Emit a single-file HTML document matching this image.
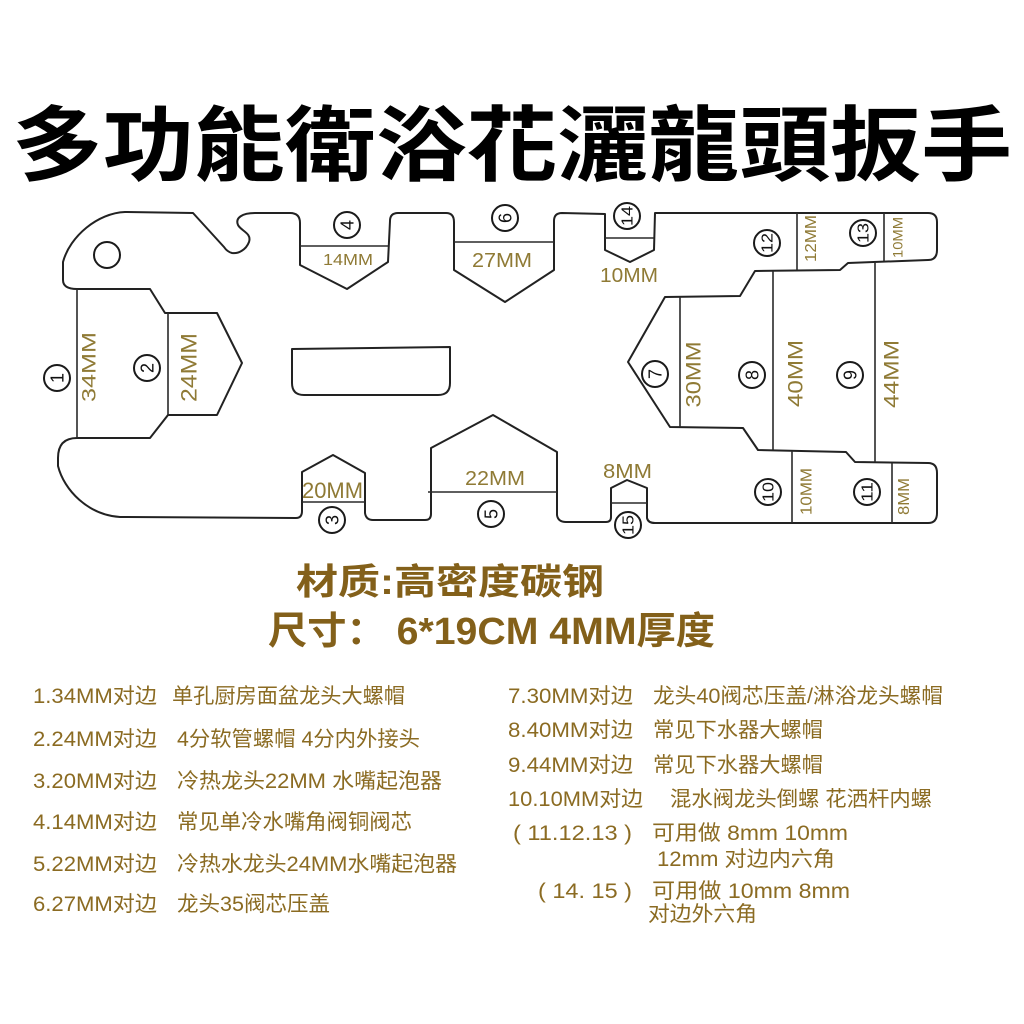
<!DOCTYPE html>
<html><head><meta charset="utf-8"><style>
html,body{margin:0;padding:0;background:#fff;}
svg{display:block;}
.o{fill:none;stroke:#222;stroke-width:2;stroke-linejoin:round;}
.l{stroke:#2a2a2a;stroke-width:1.6;}
.c{fill:none;stroke:#1a1a1a;stroke-width:2;}
.n{font-family:"Liberation Sans",sans-serif;fill:#111;text-anchor:middle;}
.g{font-family:"Liberation Sans",sans-serif;fill:#8f7a35;}
.t{font-family:"Liberation Sans","Noto Sans CJK SC",sans-serif;fill:#8b6b22;font-size:21px;}
</style></head><body>
<svg width="1024" height="1024" viewBox="0 0 1024 1024" xmlns="http://www.w3.org/2000/svg">
<rect width="1024" height="1024" fill="#fff"/>
<text x="12" y="174" font-family="'Liberation Sans','Noto Sans CJK TC',sans-serif" font-weight="bold" font-size="82" fill="#000" textLength="1000" lengthAdjust="spacingAndGlyphs">多功能衛浴花灑龍頭扳手</text>

<path class="o" d="M 77,289 L 150,289 L 165,313 L 217,313 L 242,363 L 217,415 L 168,415 L 150,438 L 77,438
C 64,438 58,445 58,458 L 58,466 C 64,490 88,515 120,517
L 296,518 Q 302,518 302,511 L 302,472 L 333,455 L 365,473 L 365,513 Q 366,520 373,520
L 425,520 Q 431,520 431,514 L 431,448 L 493,415 L 557,452 L 557,515 Q 558,522 566,522
L 606,522 Q 611,522 611,517 L 611,488 L 627,480 L 647,488 L 647,518 Q 648,523 655,523
L 928,523 Q 937,523 937,513 L 937,473 Q 937,463 928,463
L 855,462 L 846,452 L 758,450 L 743,428 L 670,427 L 628,362 L 665,297 L 740,296 L 755,271 L 840,270 L 848,263 L 928,260 Q 937,260 937,250
L 937,222 Q 937,213 928,213 L 655,213 L 654,250 L 630,262 L 605,250 L 605,214
L 562,213 Q 554,213 554,221 L 554,270 L 505,302 L 454,270 L 454,222 Q 454,213 446,213
L 398,213 Q 390,213 390,221 L 388,262 L 347,289 L 300,265 L 300,223 Q 300,213 290,213
L 255,213 C 242,213 235,218 238,225 C 241,231 252,233 249,242 C 246,250 238,254 232,253 C 228,252 226,250 224,247
L 193,213 L 125,212 C 98,213 70,236 63,262 L 63,280 Q 63,289 77,289 Z"/>
<circle class="c" cx="107" cy="255" r="13"/>
<path class="o" d="M 292,349 L 450,347 L 450,383 Q 450,395 438,395 L 304,395 Q 292,395 292,383 Z"/>

<g class="l">
<line x1="77" y1="289" x2="77" y2="438"/>
<line x1="168" y1="313" x2="168" y2="415"/>
<line x1="300" y1="246" x2="388" y2="246"/>
<line x1="454" y1="242" x2="554" y2="242"/>
<line x1="605" y1="238" x2="654" y2="238"/>
<line x1="302" y1="502" x2="365" y2="502"/>
<line x1="428" y1="492" x2="557" y2="492"/>
<line x1="611" y1="503" x2="647" y2="503"/>
<line x1="797" y1="213" x2="797" y2="270"/>
<line x1="884" y1="213" x2="884" y2="261"/>
<line x1="680" y1="297" x2="680" y2="427"/>
<line x1="773" y1="271" x2="773" y2="450"/>
<line x1="875" y1="262" x2="875" y2="462"/>
<line x1="792" y1="451" x2="792" y2="523"/>
<line x1="892" y1="463" x2="892" y2="523"/>
</g>

<g>
<circle class="c" cx="57" cy="378" r="13"/><text class="n" font-size="18" x="57" y="384.5" transform="rotate(-90 57 378)">1</text>
<circle class="c" cx="147" cy="368" r="13"/><text class="n" font-size="18" x="147" y="374.5" transform="rotate(-90 147 368)">2</text>
<circle class="c" cx="332" cy="520" r="13"/><text class="n" font-size="18" x="332" y="526.5" transform="rotate(-90 332 520)">3</text>
<circle class="c" cx="347" cy="225" r="13"/><text class="n" font-size="18" x="347" y="231.5" transform="rotate(-90 347 225)">4</text>
<circle class="c" cx="491" cy="514" r="13"/><text class="n" font-size="18" x="491" y="520.5" transform="rotate(-90 491 514)">5</text>
<circle class="c" cx="505" cy="218" r="13"/><text class="n" font-size="18" x="505" y="224.5" transform="rotate(-90 505 218)">6</text>
<circle class="c" cx="655" cy="374" r="13"/><text class="n" font-size="18" x="655" y="380.5" transform="rotate(-90 655 374)">7</text>
<circle class="c" cx="752" cy="375" r="13"/><text class="n" font-size="18" x="752" y="381.5" transform="rotate(-90 752 375)">8</text>
<circle class="c" cx="850" cy="375" r="13"/><text class="n" font-size="18" x="850" y="381.5" transform="rotate(-90 850 375)">9</text>
<circle class="c" cx="768" cy="492" r="13"/><text class="n" font-size="16" x="768" y="497.5" textLength="20" lengthAdjust="spacingAndGlyphs" transform="rotate(-90 768 492)">10</text>
<circle class="c" cx="867" cy="492" r="13"/><text class="n" font-size="16" x="867" y="497.5" textLength="20" lengthAdjust="spacingAndGlyphs" transform="rotate(-90 867 492)">11</text>
<circle class="c" cx="767" cy="243" r="13"/><text class="n" font-size="16" x="767" y="248.5" textLength="20" lengthAdjust="spacingAndGlyphs" transform="rotate(-90 767 243)">12</text>
<circle class="c" cx="863" cy="233" r="13"/><text class="n" font-size="16" x="863" y="238.5" textLength="20" lengthAdjust="spacingAndGlyphs" transform="rotate(-90 863 233)">13</text>
<circle class="c" cx="627" cy="216" r="13"/><text class="n" font-size="16" x="627" y="221.5" textLength="20" lengthAdjust="spacingAndGlyphs" transform="rotate(-90 627 216)">14</text>
<circle class="c" cx="628" cy="525" r="13"/><text class="n" font-size="16" x="628" y="530.5" textLength="20" lengthAdjust="spacingAndGlyphs" transform="rotate(-90 628 525)">15</text>
</g>

<g class="g">
<text font-size="19" x="53.5" y="374" textLength="70" lengthAdjust="spacingAndGlyphs" transform="rotate(-90 88.5 367)">34MM</text>
<text font-size="22" x="154" y="375.5" textLength="69" lengthAdjust="spacingAndGlyphs" transform="rotate(-90 188.5 367.5)">24MM</text>
<text font-size="21" x="660" y="382" textLength="66" lengthAdjust="spacingAndGlyphs" transform="rotate(-90 693 374.5)">30MM</text>
<text font-size="21" x="761.5" y="381" textLength="67" lengthAdjust="spacingAndGlyphs" transform="rotate(-90 795 373.5)">40MM</text>
<text font-size="21" x="857" y="381.5" textLength="68" lengthAdjust="spacingAndGlyphs" transform="rotate(-90 891 374)">44MM</text>
<text font-size="16" x="787.5" y="243.5" textLength="47" lengthAdjust="spacingAndGlyphs" transform="rotate(-90 811 238.5)">12MM</text>
<text font-size="14" x="877.5" y="242" textLength="41" lengthAdjust="spacingAndGlyphs" transform="rotate(-90 898 237.5)">10MM</text>
<text font-size="16" x="782.5" y="497" textLength="47" lengthAdjust="spacingAndGlyphs" transform="rotate(-90 806 491.5)">10MM</text>
<text font-size="16" x="885.5" y="501.5" textLength="37" lengthAdjust="spacingAndGlyphs" transform="rotate(-90 904 496.5)">8MM</text>
</g>
<g class="g">
<text font-size="16" x="323" y="265" textLength="50" lengthAdjust="spacingAndGlyphs">14MM</text>
<text font-size="20" x="472" y="267" textLength="60" lengthAdjust="spacingAndGlyphs">27MM</text>
<text font-size="20" x="600" y="282" textLength="58" lengthAdjust="spacingAndGlyphs">10MM</text>
<text font-size="22" x="302" y="498" textLength="61" lengthAdjust="spacingAndGlyphs">20MM</text>
<text font-size="20" x="465" y="485" textLength="60" lengthAdjust="spacingAndGlyphs">22MM</text>
<text font-size="20" x="603" y="478" textLength="49" lengthAdjust="spacingAndGlyphs">8MM</text>
</g>

<text x="296" y="594" font-family="'Liberation Sans','Noto Sans CJK SC',sans-serif" font-weight="bold" font-size="36" fill="#83601a" textLength="308" lengthAdjust="spacingAndGlyphs">材质:高密度碳钢</text>
<text x="268" y="644" font-family="'Liberation Sans','Noto Sans CJK SC',sans-serif" font-weight="bold" font-size="38" fill="#83601a" textLength="447" lengthAdjust="spacingAndGlyphs">尺寸： 6*19CM 4MM厚度</text>

<g class="t">
<text x="33" y="703" textLength="124" lengthAdjust="spacingAndGlyphs">1.34MM对边</text>
<text x="172" y="703" textLength="233" lengthAdjust="spacingAndGlyphs">单孔厨房面盆龙头大螺帽</text>
<text x="33" y="746" textLength="124" lengthAdjust="spacingAndGlyphs">2.24MM对边</text>
<text x="177" y="746" textLength="243" lengthAdjust="spacingAndGlyphs">4分软管螺帽 4分内外接头</text>
<text x="33" y="788" textLength="124" lengthAdjust="spacingAndGlyphs">3.20MM对边</text>
<text x="177" y="788" textLength="265" lengthAdjust="spacingAndGlyphs">冷热龙头22MM 水嘴起泡器</text>
<text x="33" y="829" textLength="124" lengthAdjust="spacingAndGlyphs">4.14MM对边</text>
<text x="177" y="829" textLength="235" lengthAdjust="spacingAndGlyphs">常见单冷水嘴角阀铜阀芯</text>
<text x="33" y="871" textLength="124" lengthAdjust="spacingAndGlyphs">5.22MM对边</text>
<text x="177" y="871" textLength="280" lengthAdjust="spacingAndGlyphs">冷热水龙头24MM水嘴起泡器</text>
<text x="33" y="911" textLength="124" lengthAdjust="spacingAndGlyphs">6.27MM对边</text>
<text x="177" y="911" textLength="153" lengthAdjust="spacingAndGlyphs">龙头35阀芯压盖</text>
</g>
<g class="t">
<text x="508" y="703" textLength="125" lengthAdjust="spacingAndGlyphs">7.30MM对边</text>
<text x="653" y="703" textLength="290" lengthAdjust="spacingAndGlyphs">龙头40阀芯压盖/淋浴龙头螺帽</text>
<text x="508" y="737" textLength="125" lengthAdjust="spacingAndGlyphs">8.40MM对边</text>
<text x="653" y="737" textLength="170" lengthAdjust="spacingAndGlyphs">常见下水器大螺帽</text>
<text x="508" y="772" textLength="125" lengthAdjust="spacingAndGlyphs">9.44MM对边</text>
<text x="653" y="772" textLength="170" lengthAdjust="spacingAndGlyphs">常见下水器大螺帽</text>
<text x="508" y="806" textLength="135" lengthAdjust="spacingAndGlyphs">10.10MM对边</text>
<text x="670" y="806" textLength="262" lengthAdjust="spacingAndGlyphs">混水阀龙头倒螺 花洒杆内螺</text>
<text x="513" y="840" textLength="119" lengthAdjust="spacingAndGlyphs">( 11.12.13 )</text>
<text x="652" y="840" textLength="196" lengthAdjust="spacingAndGlyphs">可用做 8mm 10mm</text>
<text x="657" y="866" textLength="178" lengthAdjust="spacingAndGlyphs">12mm 对边内六角</text>
<text x="538" y="898" textLength="94" lengthAdjust="spacingAndGlyphs">( 14. 15 )</text>
<text x="652" y="898" textLength="198" lengthAdjust="spacingAndGlyphs">可用做 10mm 8mm</text>
<text x="648" y="921" textLength="109" lengthAdjust="spacingAndGlyphs">对边外六角</text>
</g>
</svg>
</body></html>
